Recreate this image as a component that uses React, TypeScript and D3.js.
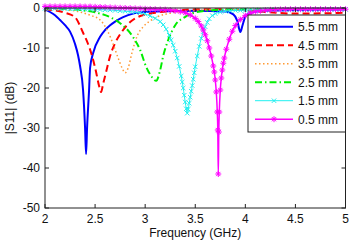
import * as d3 from 'd3';
import React, { useEffect, useRef } from 'react';

const W = 350;
const H = 242;
const plot = { left: 45, right: 345.5, top: 8, bottom: 208 };
const font = 'Liberation Sans, Arial, Helvetica, sans-serif';

const xTicks = [2, 2.5, 3, 3.5, 4, 4.5, 5];
const yTicks = [0, -10, -20, -30, -40, -50];

// |S11| in dB against frequency in GHz, one list per slot width
const s55: [number, number][] = [
  [2.0, -0.4], [2.05, -1.0], [2.1, -1.8], [2.15, -3.0], [2.2, -4.3], [2.25, -5.9],
  [2.3, -9.0], [2.33, -11.8], [2.35, -14.5], [2.38, -20.5], [2.4, -30], [2.41, -36.5],
  [2.42, -30], [2.44, -20.5], [2.45, -15], [2.48, -11.3], [2.55, -7.2], [2.6, -5.5],
  [2.65, -4.3], [2.7, -3.4], [2.78, -2.3], [2.88, -1.4], [3.0, -1.0], [3.2, -0.8],
  [3.5, -0.7], [3.8, -0.9], [3.88, -1.6], [3.92, -3.2], [3.95, -6], [3.97, -4.5],
  [4.0, -2.2], [4.05, -1.2], [4.2, -0.7], [4.5, -0.5], [5.0, -0.4],
];

const s45: [number, number][] = [
  [2.0, -0.3], [2.1, -0.6], [2.2, -1.2], [2.3, -2.3], [2.38, -6.2], [2.43, -9],
  [2.47, -12], [2.51, -16], [2.54, -19.5], [2.56, -21], [2.58, -19], [2.61, -16],
  [2.65, -12], [2.7, -8.8], [2.78, -5.5], [2.85, -3.5], [2.95, -2], [3.1, -1.2],
  [3.3, -0.6], [3.6, -0.3], [3.9, -0.4], [4.2, -1.0], [4.5, -1.4], [5.0, -1.2],
];

const s35: [number, number][] = [
  [2.0, -0.1], [2.2, -0.4], [2.35, -1.0], [2.45, -1.8], [2.55, -3], [2.62, -5.5],
  [2.68, -9], [2.73, -12.5], [2.77, -15], [2.8, -16.2], [2.83, -15], [2.87, -11],
  [2.92, -7], [2.98, -4.7], [3.05, -3.2], [3.12, -2.2], [3.25, -1.3], [3.4, -0.8],
  [3.7, -0.4], [4.0, -0.3], [5.0, -0.2],
];

const s25: [number, number][] = [
  [2.0, -0.1], [2.3, -0.4], [2.5, -1.1], [2.65, -2.3], [2.75, -3.8], [2.88, -7.3],
  [2.95, -10.5], [3.01, -14.7], [3.06, -17], [3.11, -18.2], [3.15, -15.5], [3.18, -12],
  [3.23, -8], [3.3, -4.3], [3.4, -2.2], [3.5, -1.1], [3.7, -0.5], [4.0, -0.3], [5.0, -0.2],
];

const s15: [number, number][] = [
  [2.0, -0.1], [2.05, -0.1], [2.1, -0.1], [2.15, -0.15], [2.2, -0.15], [2.25, -0.2],
  [2.3, -0.2], [2.35, -0.25], [2.4, -0.3], [2.45, -0.3], [2.5, -0.35], [2.55, -0.4],
  [2.6, -0.45], [2.65, -0.5], [2.7, -0.6], [2.75, -0.7], [2.8, -0.8], [2.85, -0.9],
  [2.9, -1.0], [2.95, -1.2], [3.0, -1.5], [3.05, -2.0], [3.1, -2.6], [3.15, -3.4],
  [3.18, -4.2], [3.21, -5.3], [3.24, -6.8], [3.26, -8], [3.28, -9.3], [3.3, -10.8],
  [3.32, -12.5], [3.34, -14.6], [3.36, -17], [3.37, -18.5], [3.38, -20], [3.39, -21.8],
  [3.4, -23.5], [3.41, -25.2], [3.42, -26.3], [3.43, -25.3], [3.44, -23.8], [3.45, -22.3],
  [3.46, -20.8], [3.47, -19.4], [3.48, -17.8], [3.49, -16.2], [3.5, -14.7], [3.52, -12],
  [3.54, -9.6], [3.56, -7.6], [3.58, -5.9], [3.6, -4.7], [3.62, -3.6], [3.64, -2.7],
  [3.67, -1.9], [3.7, -1.4], [3.75, -1.0], [3.8, -0.8], [3.85, -0.7], [3.9, -0.6],
  [3.95, -0.6], [4.0, -0.55], [4.05, -0.5], [4.1, -0.5], [4.15, -0.5], [4.2, -0.5],
  [4.25, -0.45], [4.3, -0.45], [4.35, -0.45], [4.4, -0.45], [4.45, -0.4], [4.5, -0.4],
  [4.55, -0.4], [4.6, -0.4], [4.65, -0.4], [4.7, -0.4], [4.75, -0.35], [4.8, -0.35],
  [4.85, -0.35], [4.9, -0.35], [4.95, -0.35], [5.0, -0.35],
];

const s05: [number, number][] = [
  [2.0, 0.4], [2.05, 0.4], [2.1, 0.4], [2.15, 0.4], [2.2, 0.4], [2.25, 0.4],
  [2.3, 0.4], [2.35, 0.4], [2.4, 0.35], [2.45, 0.35], [2.5, 0.3], [2.55, 0.25],
  [2.6, 0.2], [2.65, 0.15], [2.7, 0.1], [2.75, 0.05], [2.8, 0], [2.85, -0.05],
  [2.9, -0.1], [2.95, -0.15], [3.0, -0.2], [3.05, -0.25], [3.1, -0.3], [3.15, -0.35],
  [3.2, -0.4], [3.25, -0.5], [3.3, -0.7], [3.35, -0.9], [3.4, -1.2], [3.45, -1.75],
  [3.5, -2.6], [3.53, -3.4], [3.56, -4.5], [3.58, -5.5], [3.6, -6.7], [3.62, -8.2],
  [3.64, -10], [3.66, -12], [3.68, -14.5], [3.69, -16], [3.7, -18], [3.71, -21],
  [3.72, -26], [3.725, -30.5], [3.73, -41.5], [3.735, -31], [3.74, -26], [3.75, -20.5],
  [3.76, -17.5], [3.77, -15.5], [3.78, -13.8], [3.79, -12.5], [3.81, -10.3], [3.84, -7.8],
  [3.87, -5.8], [3.9, -4.4], [3.95, -2.9], [4.0, -1.9], [4.05, -1.3], [4.1, -0.9],
  [4.15, -0.7], [4.2, -0.55], [4.25, -0.45], [4.3, -0.4], [4.35, -0.35], [4.4, -0.3],
  [4.45, -0.3], [4.5, -0.3], [4.55, -0.3], [4.6, -0.3], [4.65, -0.3], [4.7, -0.3],
  [4.75, -0.3], [4.8, -0.3], [4.85, -0.3], [4.9, -0.3], [4.95, -0.3], [5.0, -0.3],
];

const seriesData = [s55, s45, s35, s25, s15, s05];
const seriesLabels = ['5.5 mm', '4.5 mm', '3.5 mm', '2.5 mm', '1.5 mm', '0.5 mm'];

// line styles, same order as the series
const styles = [
  { color: '#0000ff', width: 2, dash: null, marker: null },
  { color: '#ff0000', width: 2, dash: '7,4', marker: null },
  { color: '#ff9933', width: 1.5, dash: '1.5,2.5', marker: null },
  { color: '#00ee00', width: 2, dash: '7,3,1.5,3', marker: null },
  { color: '#22f0f0', width: 1, dash: null, marker: 'x' },
  { color: '#ff00ff', width: 1.5, dash: null, marker: '*' },
];

const markerPaths: Record<string, string> = {
  x: 'M-2.2,-2.2L2.2,2.2M-2.2,2.2L2.2,-2.2',
  '*': 'M-3,0H3M0,-3V3M-2.1,-2.1L2.1,2.1M-2.1,2.1L2.1,-2.1',
};

const x = d3.scaleLinear().domain([2, 5]).range([plot.left, plot.right]);
const y = d3.scaleLinear().domain([-50, 0]).range([plot.bottom, plot.top]);

function S11Chart() {
  const ref = useRef<SVGSVGElement>(null);

  useEffect(() => {
    const svg = d3.select(ref.current);
    svg.selectAll('*').remove();

    svg.append('rect')
      .attr('width', W).attr('height', H).attr('fill', '#fff');

    const line = d3.line<[number, number]>()
      .x(d => x(d[0]))
      .y(d => y(d[1]))
      .curve(d3.curveMonotoneX);

    seriesData.forEach((data, i) => {
      const st = styles[i];
      const path = svg.append('path')
        .attr('d', line(data))
        .attr('fill', 'none')
        .attr('stroke', st.color)
        .attr('stroke-width', st.width);
      if (st.dash) path.attr('stroke-dasharray', st.dash);
      if (st.marker) {
        svg.append('g')
          .selectAll('path')
          .data(data)
          .enter()
          .append('path')
          .attr('d', markerPaths[st.marker])
          .attr('transform', d => `translate(${x(d[0])},${y(d[1])})`)
          .attr('fill', 'none')
          .attr('stroke', st.color)
          .attr('stroke-width', 1);
      }
    });

    // axes box with inward ticks on all sides
    const axes = svg.append('g').attr('stroke', '#222').attr('stroke-width', 1);
    axes.append('rect')
      .attr('x', plot.left).attr('y', plot.top)
      .attr('width', plot.right - plot.left).attr('height', plot.bottom - plot.top)
      .attr('fill', 'none');
    xTicks.forEach(t => {
      axes.append('line')
        .attr('x1', x(t)).attr('x2', x(t))
        .attr('y1', plot.bottom).attr('y2', plot.bottom - 4);
      axes.append('line')
        .attr('x1', x(t)).attr('x2', x(t))
        .attr('y1', plot.top).attr('y2', plot.top + 4);
    });
    yTicks.forEach(t => {
      axes.append('line')
        .attr('x1', plot.left).attr('x2', plot.left + 4)
        .attr('y1', y(t)).attr('y2', y(t));
      axes.append('line')
        .attr('x1', plot.right).attr('x2', plot.right - 4)
        .attr('y1', y(t)).attr('y2', y(t));
    });

    const text = svg.append('g')
      .attr('font-family', font)
      .attr('font-size', 12)
      .attr('fill', '#111');
    xTicks.forEach(t => {
      text.append('text')
        .attr('x', x(t)).attr('y', plot.bottom + 15)
        .attr('text-anchor', 'middle')
        .text(String(t));
    });
    yTicks.forEach(t => {
      text.append('text')
        .attr('x', plot.left - 5).attr('y', y(t) + 4)
        .attr('text-anchor', 'end')
        .text(String(t));
    });
    text.append('text')
      .attr('x', (plot.left + plot.right) / 2).attr('y', 237)
      .attr('text-anchor', 'middle')
      .text('Frequency (GHz)');
    text.append('text')
      .attr('transform', `translate(14,${(plot.top + plot.bottom) / 2}) rotate(-90)`)
      .attr('text-anchor', 'middle')
      .text('|S11| (dB)');

    // legend
    const lg = svg.append('g');
    lg.append('rect')
      .attr('x', 248).attr('y', 15)
      .attr('width', plot.right - 248).attr('height', 117)
      .attr('fill', '#fff')
      .attr('stroke', '#222')
      .attr('stroke-width', 1);
    seriesLabels.forEach((label, i) => {
      const st = styles[i];
      const ly = 26.7 + i * 18.5;
      const l = lg.append('line')
        .attr('x1', 255).attr('x2', 293)
        .attr('y1', ly).attr('y2', ly)
        .attr('stroke', st.color)
        .attr('stroke-width', st.width);
      if (st.dash) l.attr('stroke-dasharray', st.dash);
      if (st.marker) {
        lg.append('path')
          .attr('d', markerPaths[st.marker])
          .attr('transform', `translate(274,${ly})`)
          .attr('fill', 'none')
          .attr('stroke', st.color)
          .attr('stroke-width', 1);
      }
      lg.append('text')
        .attr('x', 298).attr('y', ly + 4.3)
        .attr('font-family', font)
        .attr('font-size', 12)
        .attr('fill', '#111')
        .text(label);
    });
  }, []);

  return <svg ref={ref} width={W} height={H} />;
}

export default function App() {
  return (
    <div style={{ position: 'absolute', left: 0, top: 0 }}>
      <S11Chart />
    </div>
  );
}
